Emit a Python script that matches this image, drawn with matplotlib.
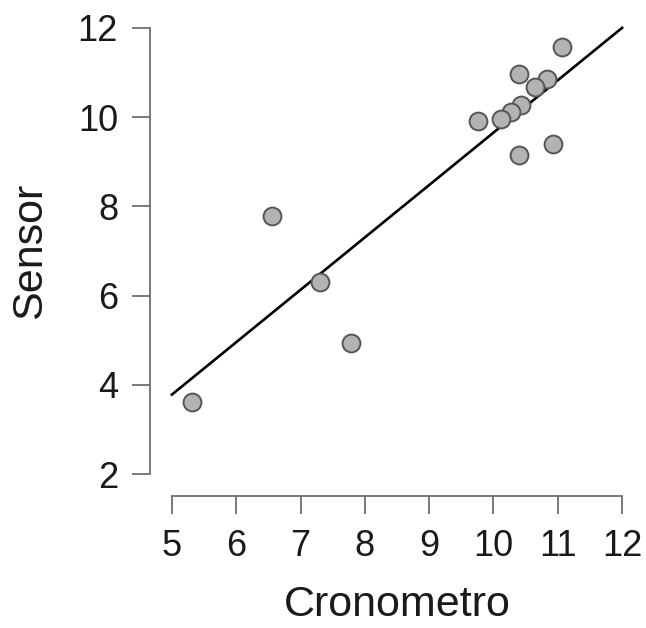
import matplotlib.pyplot as plt
import numpy as np

plt.rcParams['font.family'] = ['Liberation Sans', 'DejaVu Sans']

# Data
cronometro = [11.07, 10.39, 10.83, 10.65, 10.43, 10.27, 10.12, 9.76, 10.92, 10.40,
              6.56, 7.31, 7.79, 5.32]
sensor = [11.58, 10.97, 10.85, 10.67, 10.27, 10.12, 9.95, 9.92, 9.40, 9.15,
          7.78, 6.31, 4.94, 3.62]
x_ticks = [5, 6, 7, 8, 9, 10, 11, 12]
y_ticks = [2, 4, 6, 8, 10, 12]

x = np.array(cronometro)
y = np.array(sensor)

fig = plt.figure(figsize=(6.46, 6.28), dpi=100)
ax = fig.add_axes([150/646, 132/628, 494/646, 490/628])

# regression line
slope, intercept = np.polyfit(x, y, 1)
xl = np.array([5, 12])
ax.plot(xl, intercept + slope*xl, color='black', lw=1.9, zorder=2)

ax.scatter(x, y, s=165, facecolor='#b3b3b3', edgecolor='#555555', linewidth=1.4, zorder=3)

ax.set_xlim(4.66, 12.34)
ax.set_ylim(1.51, 12.49)

axis_col = '#6e6e6e'
for s in ['top', 'right']:
    ax.spines[s].set_visible(False)
ax.spines['left'].set_bounds(2, 12)
ax.spines['bottom'].set_bounds(5, 12)
for s in ['left', 'bottom']:
    ax.spines[s].set_color(axis_col)
    ax.spines[s].set_linewidth(1.3)

ax.set_xticks(x_ticks)
ax.set_yticks(y_ticks)
ax.tick_params(axis='both', colors=axis_col, labelcolor='#1a1a1a', length=13, width=1.3, labelsize=26)
ax.tick_params(axis='x', pad=11)
ax.tick_params(axis='y', pad=10)

ax.set_xlabel('Cronometro', fontsize=31, color='#1a1a1a', labelpad=15)
ax.set_ylabel('Sensor', fontsize=31, color='#1a1a1a', labelpad=20)

plt.savefig('out.png', dpi=100)
